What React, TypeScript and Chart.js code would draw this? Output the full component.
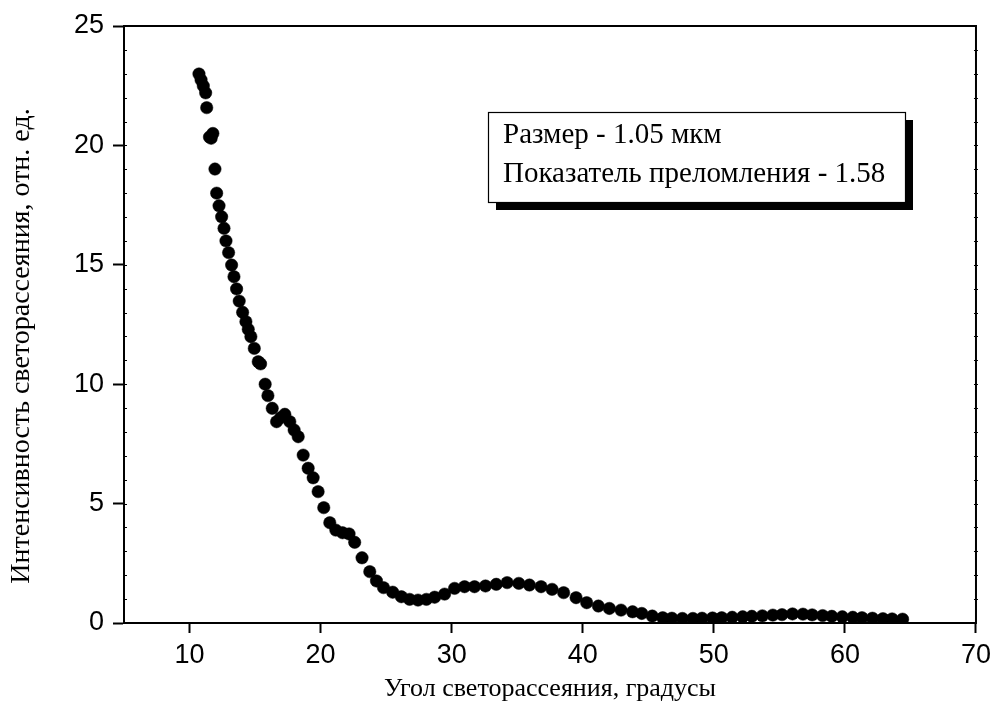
import React, { useEffect, useRef } from "react";
import { Chart, registerables } from "chart.js";

Chart.register(...registerables);

const angles: number[] = [
  10.72, 10.88, 11.05, 11.23, 11.31, 11.52, 11.65, 11.78, 11.94, 12.07,
  12.25, 12.45, 12.63, 12.78, 12.98, 13.21, 13.39, 13.59, 13.79, 14.05,
  14.3, 14.48, 14.68, 14.94, 15.24, 15.42, 15.77, 15.98, 16.31, 16.64,
  16.95, 17.27, 17.65, 17.98, 18.29, 18.67, 19.05, 19.43, 19.81, 20.24,
  20.7, 21.16, 21.67, 22.17, 22.6, 23.16, 23.75, 24.26, 24.8, 25.5,
  26.16, 26.79, 27.43, 28.07, 28.7, 29.46, 30.22, 30.98, 31.74, 32.58,
  33.4, 34.23, 35.12, 35.93, 36.82, 37.66, 38.54, 39.49, 40.3, 41.19,
  42.03, 42.92, 43.8, 44.5, 45.3, 46.1, 46.8, 47.6, 48.4, 49.1,
  49.9, 50.6, 51.4, 52.2, 52.9, 53.7, 54.5, 55.2, 56.0, 56.8,
  57.5, 58.3, 59.0, 59.8, 60.6, 61.3, 62.1, 62.9, 63.6, 64.4,
];

const intensity: number[] = [
  22.99, 22.74, 22.49, 22.2, 21.58, 20.35, 20.3, 20.5, 19.01, 18.0,
  17.47, 17.01, 16.53, 16.0, 15.51, 14.99, 14.5, 13.99, 13.48, 13.01,
  12.62, 12.3, 11.99, 11.5, 10.94, 10.85, 10.0, 9.52, 8.99, 8.43,
  8.6, 8.74, 8.43, 8.08, 7.8, 7.03, 6.48, 6.08, 5.5, 4.83,
  4.2, 3.89, 3.78, 3.73, 3.38, 2.73, 2.15, 1.76, 1.48, 1.29,
  1.1, 0.99, 0.96, 0.99, 1.08, 1.21, 1.45, 1.52, 1.52, 1.55,
  1.62, 1.69, 1.66, 1.59, 1.52, 1.41, 1.27, 1.06, 0.85, 0.71,
  0.61, 0.54, 0.47, 0.4, 0.29, 0.22, 0.2, 0.19, 0.19, 0.2,
  0.21, 0.22, 0.24, 0.26, 0.28, 0.3, 0.33, 0.35, 0.38, 0.37,
  0.34, 0.31, 0.28, 0.26, 0.24, 0.22, 0.2, 0.18, 0.17, 0.16,
];

const xTicks: number[] = [10, 20, 30, 40, 50, 60, 70];
const yTicks: number[] = [0, 5, 10, 15, 20, 25];
const xRange: number[] = [5, 70];
const yRange: number[] = [0, 25];

const xTitle = "Угол светорассеяния, градусы";
const yTitle = "Интенсивность светорассеяния, отн. ед.";
const legendLines: string[] = ["Размер - 1.05 мкм", "Показатель преломления - 1.58"];

const framePlugin = {
  id: "frameAndNotes",
  afterDraw(chart: any) {
    const { ctx, chartArea, scales } = chart;
    const { left, right, top, bottom } = chartArea;
    const y = scales.y;
    ctx.save();
    // top and right frame
    ctx.strokeStyle = "#000";
    ctx.lineWidth = 2;
    ctx.beginPath();
    ctx.moveTo(left - 1, top);
    ctx.lineTo(right, top);
    ctx.lineTo(right, bottom + 1);
    ctx.stroke();
    // minor ticks
    ctx.lineWidth = 1;
    for (let v = yRange[0] + 1; v < yRange[1]; v += 1) {
      const py = Math.round(y.getPixelForValue(v)) + 0.5;
      ctx.beginPath();
      ctx.moveTo(left, py);
      ctx.lineTo(left + 3, py);
      ctx.moveTo(right - 2, py);
      ctx.lineTo(right + 2, py);
      ctx.stroke();
    }
    // y title
    ctx.fillStyle = "#000";
    ctx.font = "28px 'Liberation Serif', 'Times New Roman', serif";
    ctx.textAlign = "center";
    ctx.textBaseline = "middle";
    ctx.translate(22, 346);
    ctx.rotate(-Math.PI / 2);
    ctx.fillText(yTitle, 0, 0);
    ctx.restore();

    // legend box with shadow
    ctx.save();
    const bx = 488, by = 112, bw = 417, bh = 90, sh = 8;
    ctx.fillStyle = "#000";
    ctx.fillRect(bx + sh, by + sh, bw, bh);
    ctx.fillStyle = "#fff";
    ctx.fillRect(bx, by, bw, bh);
    ctx.strokeStyle = "#000";
    ctx.lineWidth = 1.2;
    ctx.strokeRect(bx + 0.5, by + 0.5, bw, bh);
    ctx.fillStyle = "#000";
    ctx.font = "29px 'Liberation Serif', 'Times New Roman', serif";
    ctx.textAlign = "left";
    ctx.textBaseline = "alphabetic";
    ctx.fillText(legendLines[0], bx + 15, by + 31);
    ctx.fillText(legendLines[1], bx + 15, by + 70);
    ctx.restore();
  },
};

export default function App() {
  const ref = useRef<HTMLCanvasElement | null>(null);
  useEffect(() => {
    if (!ref.current) return;
    const points = angles.map((a, i) => ({ x: a, y: intensity[i] }));
    const chart = new Chart(ref.current, {
      type: "scatter",
      data: {
        datasets: [
          {
            data: points,
            backgroundColor: "#000",
            borderColor: "#000",
            borderWidth: 0.5,
            pointRadius: 6.2,
            pointHoverRadius: 6.2,
          },
        ],
      },
      options: {
        responsive: false,
        animation: false,
        events: [],
        layout: { padding: { left: 0, top: 26, right: 20, bottom: 0 } },
        plugins: { legend: { display: false }, tooltip: { enabled: false } },
        scales: {
          x: {
            type: "linear",
            min: xRange[0],
            max: xRange[1],
            afterBuildTicks: (s: any) => {
              s.ticks = xTicks.map((v) => ({ value: v }));
            },
            afterFit: (s: any) => {
              s.height = 97;
            },
            border: { display: true, color: "#000", width: 2 },
            grid: {
              display: true,
              drawOnChartArea: false,
              drawTicks: true,
              tickLength: 10,
              tickWidth: 2,
              tickColor: "#000",
              color: "#000",
            },
            ticks: {
              color: "#000",
              padding: 6,
              font: { family: "'Liberation Sans', Arial, sans-serif", size: 27 },
              maxRotation: 0,
            },
            title: {
              display: true,
              text: xTitle,
              color: "#000",
              font: { family: "'Liberation Serif', 'Times New Roman', serif", size: 26 },
              padding: { top: 0, bottom: 15 },
            },
          },
          y: {
            type: "linear",
            min: yRange[0],
            max: yRange[1],
            afterBuildTicks: (s: any) => {
              s.ticks = yTicks.map((v) => ({ value: v }));
            },
            afterFit: (s: any) => {
              s.width = 124;
            },
            border: { display: true, color: "#000", width: 2 },
            grid: {
              display: true,
              drawOnChartArea: false,
              drawTicks: true,
              tickLength: 11,
              tickWidth: 2,
              tickColor: "#000",
              color: "#000",
            },
            ticks: {
              color: "#000",
              padding: 9,
              font: { family: "'Liberation Sans', Arial, sans-serif", size: 27 },
            },
          },
        },
      },
      plugins: [framePlugin],
    });
    return () => chart.destroy();
  }, []);
  return (
    <div style={{ position: "absolute", left: 0, top: 0, width: 997, height: 720, background: "#fff" }}>
      <canvas ref={ref} width={997} height={720} style={{ display: "block" }} />
    </div>
  );
}
